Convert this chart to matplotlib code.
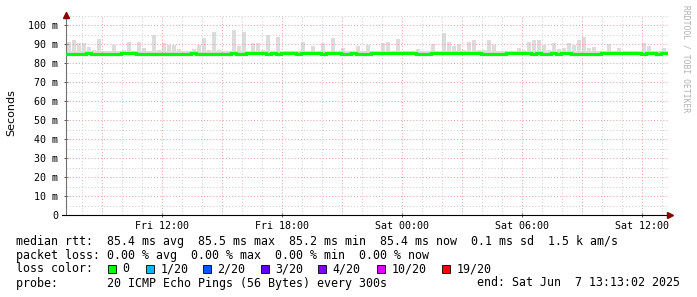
import numpy as np
import matplotlib
matplotlib.use("Agg")
import matplotlib.pyplot as plt
from matplotlib.patches import Rectangle

# time axis in hours since Fri 00:00, smoke / median in 15 minute bins
t_start = 7.2
t_end = 37.3
bin_h = 0.25

# upper edge of the smoke (ms), one value per 15 minutes
smoke_top = [
    91.2, 92.1, 90.7, 90.7, 88.4, 87.0, 92.6, 86.5, 86.5, 89.5,
    86.5, 87.0, 91.2, 86.5, 91.2, 88.0, 86.5, 94.7, 87.0, 90.7,
    89.5, 89.5, 87.5, 86.5, 86.5, 87.4, 89.5, 93.0, 87.0, 96.5,
    87.0, 86.0, 86.5, 97.4, 88.9, 96.5, 86.5, 90.3, 90.3, 87.0,
    94.7, 86.5, 93.9, 86.0, 86.5, 86.0, 86.5, 90.9, 86.5, 89.0,
    86.5, 90.3, 86.5, 93.0, 86.5, 88.0, 86.0, 86.0, 89.0, 86.5,
    89.5, 86.5, 86.5, 90.7, 91.0, 86.5, 92.5, 86.5, 86.0, 86.0,
    87.5, 86.0, 86.5, 90.0, 86.5, 96.0, 91.0, 89.0, 90.0, 87.0,
    91.0, 92.0, 87.0, 87.0, 92.0, 89.5, 86.5, 86.0, 86.0, 86.5,
    88.0, 87.0, 91.0, 92.0, 92.0, 89.5, 87.0, 90.3, 87.5, 88.0,
    90.3, 89.5, 92.0, 93.9, 88.0, 88.5, 86.5, 86.5, 90.0, 86.5,
    88.0, 86.0, 86.5, 86.5, 86.5, 90.3, 89.0, 86.5, 86.0, 88.0,
]
smoke_floor = 85.0
smoke_base = 86.2   # low haze level present nearly all the time

# median rtt (ms) per 15 minutes
D, N = 84.9, 85.4
median = [
    D, D, D, D, N, D, D, D, D, D, D, N, N, N, D, D, D, D, D, D,
    D, D, D, D, D, N, D, D, D, D, D, D, D, N, D, D, N, N, N, N,
    D, N, D, N, N, N, D, N, N, N, N, D, N, N, N, D, D, N, D, D,
    D, N, N, N, N, N, N, N, N, N, D, D, D, N, N, N, N, N, N, N,
    N, N, N, D, D, D, D, D, N, N, N, N, N, D, N, D, D, N, D, N,
    N, D, D, D, D, D, D, N, N, N, N, N, N, N, N, D, N, N, D, N,
]

x_ticks = [12, 18, 24, 30, 36]
x_labels = ["Fri 12:00", "Fri 18:00", "Sat 00:00", "Sat 06:00", "Sat 12:00"]
y_ticks = list(range(0, 101, 10))
y_labels = ["0"] + [f"{v} m" for v in y_ticks[1:]]

loss_labels = ["0", "1/20", "2/20", "3/20", "4/20", "10/20", "19/20"]
loss_colors = ["#00ff00", "#00b8ff", "#0059ff", "#5e00ff", "#7e00ff", "#dd00ff", "#ff0000"]
loss_box_x = [108, 146, 203, 261, 318, 377, 442]

legend_lines = [
    "median rtt:  85.4 ms avg  85.5 ms max  85.2 ms min  85.4 ms now  0.1 ms sd  1.5 k am/s",
    "packet loss: 0.00 % avg  0.00 % max  0.00 % min  0.00 % now",
    "loss color:",
    "probe:       20 ICMP Echo Pings (56 Bytes) every 300s",
]
end_text = "end: Sat Jun  7 13:13:02 2025"

W, H = 697, 297
mono = "DejaVu Sans Mono"
fig = plt.figure(figsize=(W / 100, H / 100), dpi=100)
ax = fig.add_axes([66 / W, 82 / H, 602 / W, 200 / H])
ax.set_xlim(t_start, t_end)
ax.set_ylim(0, 105.3)

bins = t_start + np.arange(len(smoke_top)) * bin_h
top = np.array(smoke_top)
smoke_col = "#dcdcdc"
ax.fill_between([t_start, t_end], smoke_floor, smoke_base, color=smoke_col, lw=0, zorder=1)
ax.bar(bins + bin_h / 2, top - smoke_floor, bottom=smoke_floor, width=bin_h * 0.8,
       color=smoke_col, linewidth=0, zorder=1)

# grid
red = "#e8a4a4"
grey = "#cfcfcf"
dots = (0, (1, 2))
for v in np.arange(5, 106, 5):
    ax.axhline(v, color=red if v % 10 == 0 else grey, lw=0.75, ls=dots, zorder=2)
for h in range(8, 38):
    ax.axvline(h, color=red if h % 3 == 0 else grey, lw=0.75, ls=dots, zorder=2)

ax.step(np.append(bins, bins[-1] + bin_h), median + [median[-1]], where="post",
        color="#00ff00", lw=2.3, zorder=3, solid_joinstyle="miter")

for s in ["top", "right"]:
    ax.spines[s].set_visible(False)
ax.spines["left"].set_color("#707070")
ax.spines["left"].set_linewidth(0.8)
ax.spines["bottom"].set_color("black")
ax.spines["bottom"].set_linewidth(0.8)
ax.spines["bottom"].set_bounds(t_start - 0.2, t_end)
ax.spines["left"].set_bounds(0, 107)

ax.plot([0], [1.0], marker="^", color="#8b0000", ms=4, transform=ax.transAxes,
        clip_on=False, zorder=5)
ax.plot([1.004], [0], marker=">", color="#8b0000", ms=4, transform=ax.transAxes,
        clip_on=False, zorder=5)

ax.set_xticks(x_ticks)
ax.set_xticklabels(x_labels, family=mono, fontsize=7.2)
ax.set_yticks(y_ticks)
ax.set_yticklabels(y_labels, family=mono, fontsize=7.2)
ax.tick_params(axis="both", direction="inout", length=3, width=0.7, color="#505050", pad=3)
ax.tick_params(axis="y", pad=4)

fig.text(11 / W, 1 - 113 / H, "Seconds", rotation=90, ha="center", va="center",
         fontsize=8, family="DejaVu Sans")
fig.text(686 / W, 1 - 5 / H, "RRDTOOL / TOBI OETIKER", rotation=270, ha="center",
         va="top", fontsize=5.8, family=mono, color="#b0b0b0")

line_y = [241, 255, 269, 283]
for txt, y in zip(legend_lines, line_y):
    fig.text(16 / W, 1 - y / H, txt, ha="left", va="center", family=mono, fontsize=8.4)
fig.text(680 / W, 1 - 283 / H, end_text, ha="right", va="center", family=mono, fontsize=8.4)

for lab, col, bx in zip(loss_labels, loss_colors, loss_box_x):
    fig.add_artist(Rectangle((bx / W, 1 - 273 / H), 8 / W, 8 / H, transform=fig.transFigure,
                             facecolor=col, edgecolor="black", linewidth=0.6))
    fig.text((bx + 14.5) / W, 1 - 269 / H, lab, ha="left", va="center", family=mono, fontsize=8.4)

fig.savefig("out.png", dpi=100, facecolor="white")
